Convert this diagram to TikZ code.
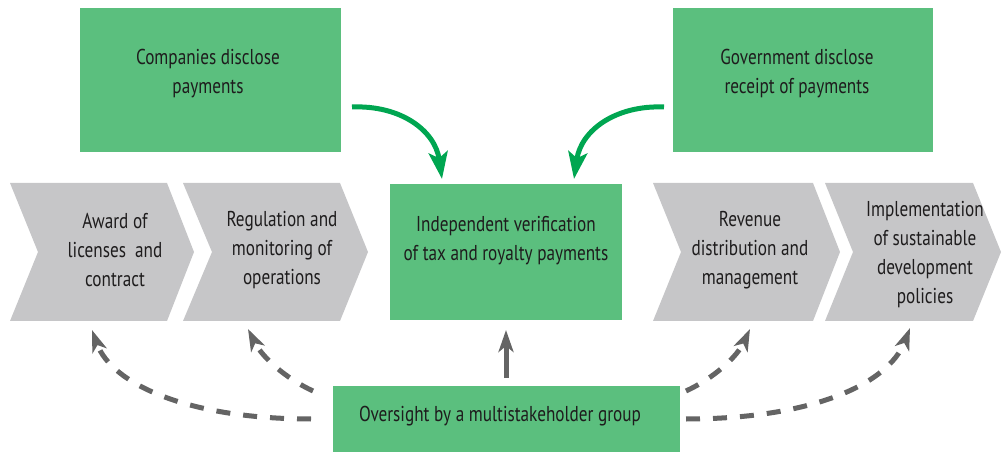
\documentclass[tikz,border=0pt]{standalone}
\usepackage{fontspec}
\setmainfont{PT Sans}[FakeStretch=0.8]
\usetikzlibrary{arrows.meta}
\definecolor{boxgreen}{RGB}{91,191,126}
\definecolor{arrgreen}{RGB}{0,166,81}
\definecolor{chevgray}{RGB}{198,198,200}
\definecolor{arrgray}{RGB}{100,100,100}
\definecolor{txt}{RGB}{30,28,29}
\tikzset{
  gbox/.style={fill=boxgreen, draw=none},
  chev/.style={fill=chevgray, draw=none},
  lbl/.style={text=txt, align=center, font=\fontsize{21.5}{29}\selectfont, inner sep=0pt},
  garrow/.style={draw=arrgreen, line width=5pt, -{Stealth[length=27pt,width=19pt,inset=6pt]}},
  darrow/.style={draw=arrgray, line width=5pt, dash pattern=on 14pt off 13pt, -{Stealth[length=22pt,width=15pt,inset=6pt]}},
  sarrow/.style={draw=arrgray, line width=5pt, -{Stealth[length=22pt,width=15pt,inset=6pt]}},
}
\begin{document}
\begin{tikzpicture}[x=1pt,y=-1pt]
\useasboundingbox (0,0) rectangle (1004,454);
% green boxes
\fill[gbox] (80,8) rectangle (341,152);
\fill[gbox] (673,8) rectangle (933,152);
\fill[gbox] (390,184) rectangle (622,320);
\fill[gbox] (333,386) rectangle (680,452);
% chevrons
\fill[chev] (10,183) -- (167,183) -- (194,252) -- (167,321) -- (10,321) -- (38,252) -- cycle;
\fill[chev] (183,183) -- (340,183) -- (368,252) -- (340,321) -- (183,321) -- (212,252) -- cycle;
\fill[chev] (653,183) -- (813,183) -- (840,252) -- (813,321) -- (653,321) -- (681,252) -- cycle;
\fill[chev] (825,183) -- (973,183) -- (1001,252) -- (973,321) -- (825,321) -- (853,252) -- cycle;
% labels
\node[lbl] (comp) at (208,74) {Companies disclose\\payments};
\node[lbl] (gov) at (797,74) {Government disclose\\receipt of payments};
\node[lbl] (ver) at (506,241) {Independent verification\\of tax and royalty payments};
\node[lbl] (award) at (115,250) {Award of\\licenses\ \ and\\contract};
\node[lbl] (reg) at (282,250) {Regulation and\\monitoring of\\operations};
\node[lbl] (rev) at (750,250) {Revenue\\distribution and\\management};
\node[lbl] (impl) at (925,255) {Implementation\\of sustainable\\development\\policies};
\node[lbl] (over) at (500,416) {Oversight by a multistakeholder group};
% connector coordinates
\coordinate (c1s) at (352,107);
\coordinate (c1e) at (442,179);
\coordinate (c2s) at (664,107);
\coordinate (c2e) at (574,179);
\coordinate (o1) at (311,419);
\coordinate (o2) at (313,391);
\coordinate (o3) at (686,391);
\coordinate (o4) at (686,419);
\coordinate (oc) at (506,378);
\coordinate (t1) at (92,330);
\coordinate (t2) at (248,329);
\coordinate (t3) at (750,329);
\coordinate (t4) at (910,328);
\coordinate (tc) at (506,330);
% green arrows
\draw[garrow] (c1s) .. controls (400,105) and (435,130) .. (c1e);
\draw[garrow] (c2s) .. controls (616,105) and (581,130) .. (c2e);
% gray arrows
\draw[darrow] (o1) .. controls (190,419) and (112,385) .. (t1);
\draw[darrow] (o2) .. controls (285,378) and (262,357) .. (t2);
\draw[darrow] (o3) .. controls (714,378) and (737,357) .. (t3);
\draw[darrow] (o4) .. controls (810,419) and (888,385) .. (t4);
\draw[sarrow] (oc) -- (tc);
\end{tikzpicture}
\end{document}
